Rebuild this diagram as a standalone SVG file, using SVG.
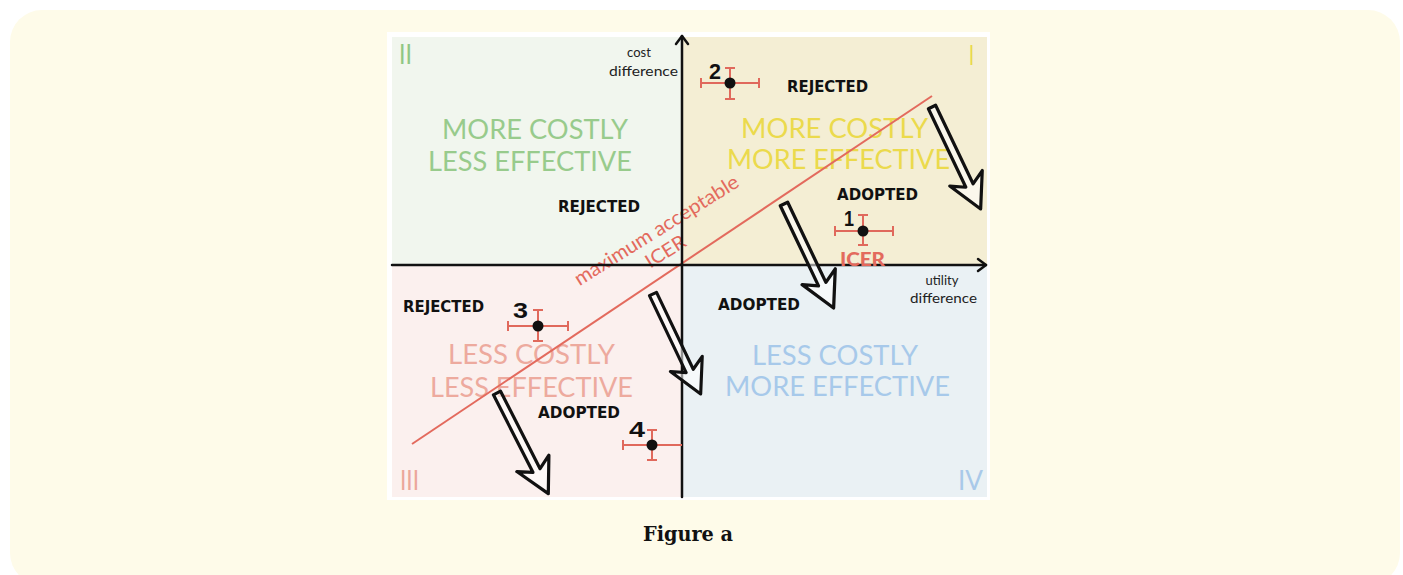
<svg xmlns="http://www.w3.org/2000/svg" xmlns:xlink="http://www.w3.org/1999/xlink" width="1403" height="575" viewBox="0 0 1403 575">
<style>
.quad{font-family:Lato,"Noto Sans",sans-serif;font-size:27px;font-weight:400;text-anchor:start}
.dec{font-family:"DejaVu Sans","Noto Sans",sans-serif;font-size:15px;font-weight:900;fill:#111}
.ax{font-family:Lato,"Noto Sans",sans-serif;font-size:13px;fill:#222}
.num{font-family:"Liberation Sans",sans-serif;font-size:22px;font-weight:bold;fill:#111}
.eb{stroke:#E0695C;stroke-width:2;fill:none}
.red{fill:#E36A5D;font-family:Lato,"Noto Sans",sans-serif}
.harrow{fill:#ffffff;fill-opacity:0.55;stroke:#111;stroke-width:3.2;stroke-linejoin:round}
</style>
<defs>
<path id="harrow" d="M0,-4 L87,-4 L79,-18 L113,0 L79,18 L87,4 L0,4 Z"/>
</defs>
<rect x="10" y="10" width="1390" height="575" rx="32" fill="#FEFBE9"/>
<g id="chart">
<rect x="387" y="32" width="603" height="468" fill="#ffffff"/>
<rect x="392" y="37" width="290" height="228" fill="#F1F6EE"/>
<rect x="682" y="37" width="305" height="228" fill="#F4EED4"/>
<rect x="392" y="265" width="290" height="232" fill="#FBF0EE"/>
<rect x="682" y="265" width="305" height="232" fill="#EAF1F4"/>
</g>
<g id="quadrant-II">
<text class="quad" x="399" y="64" fill="#90C683" font-size="24" textLength="13" lengthAdjust="spacingAndGlyphs">II</text>
<text class="quad" x="442" y="139" fill="#98CB8C" textLength="186" lengthAdjust="spacingAndGlyphs">MORE COSTLY</text>
<text class="quad" x="428" y="171" fill="#98CB8C" textLength="204" lengthAdjust="spacingAndGlyphs">LESS EFFECTIVE</text>
<text class="dec" x="558" y="212" textLength="82" lengthAdjust="spacingAndGlyphs">REJECTED</text>
</g>
<g id="quadrant-I">
<text class="quad" x="969" y="65" fill="#E9D94A" font-size="24" textLength="5" lengthAdjust="spacingAndGlyphs">I</text>
<text class="quad" x="741" y="138" fill="#EBDA4C" textLength="187" lengthAdjust="spacingAndGlyphs">MORE COSTLY</text>
<text class="quad" x="727" y="169" fill="#EBDA4C" textLength="223" lengthAdjust="spacingAndGlyphs">MORE EFFECTIVE</text>
<text class="dec" x="787" y="92" textLength="81" lengthAdjust="spacingAndGlyphs">REJECTED</text>
<text class="dec" x="837" y="200" textLength="81" lengthAdjust="spacingAndGlyphs">ADOPTED</text>
</g>
<g id="quadrant-III">
<text class="quad" x="400" y="490" fill="#EBA79B" font-size="24" textLength="19" lengthAdjust="spacingAndGlyphs">III</text>
<text class="quad" x="448" y="364" fill="#EDAA9E" textLength="167" lengthAdjust="spacingAndGlyphs">LESS COSTLY</text>
<text class="quad" x="430" y="397" fill="#EDAA9E" textLength="203" lengthAdjust="spacingAndGlyphs">LESS EFFECTIVE</text>
<text class="dec" x="403" y="312" textLength="81" lengthAdjust="spacingAndGlyphs">REJECTED</text>
<text class="dec" x="538" y="418" textLength="82" lengthAdjust="spacingAndGlyphs">ADOPTED</text>
</g>
<g id="quadrant-IV">
<text class="quad" x="958" y="490" fill="#A9C9E9" font-size="24" textLength="25" lengthAdjust="spacingAndGlyphs">IV</text>
<text class="quad" x="752" y="365" fill="#A7C9EA" textLength="166" lengthAdjust="spacingAndGlyphs">LESS COSTLY</text>
<text class="quad" x="725" y="396" fill="#A7C9EA" textLength="225" lengthAdjust="spacingAndGlyphs">MORE EFFECTIVE</text>
<text class="dec" x="718" y="310" textLength="82" lengthAdjust="spacingAndGlyphs">ADOPTED</text>
</g>
<g id="icer-line">
<line x1="412" y1="444" x2="932" y2="96" stroke="#E36A5D" stroke-width="2"/>
<text class="red" font-size="20" text-anchor="middle" transform="translate(660,236) rotate(-32)" textLength="190" lengthAdjust="spacingAndGlyphs">maximum acceptable</text>
<text class="red" font-size="19" text-anchor="middle" transform="translate(669,257) rotate(-32)" textLength="44" lengthAdjust="spacingAndGlyphs">ICER</text>
</g>
<g id="axes" fill="none" stroke="#111" stroke-width="2.5" stroke-linecap="round" stroke-linejoin="round">
<line x1="682" y1="36" x2="682" y2="497"/>
<line x1="392" y1="265" x2="986" y2="265"/>
<polyline points="676,44 682,36 688,44"/>
<polyline points="978,259 986,265 978,271"/>
</g>
<g id="axis-labels">
<text class="ax" x="639" y="57" text-anchor="middle">cost</text>
<text class="ax" x="609" y="76" textLength="69" lengthAdjust="spacingAndGlyphs">difference</text>
<text class="ax" x="942" y="285" text-anchor="middle">utility</text>
<text class="ax" x="910" y="303" textLength="67" lengthAdjust="spacingAndGlyphs">difference</text>
</g>
<g id="point-1">
<path class="eb" d="M835,231 H893 M835,226 V236 M893,226 V236 M863,215 V245 M858,215 H868 M858,245 H868"/>
<circle cx="863" cy="231" r="5.5" fill="#111"/>
<text class="num" x="844" y="226" textLength="10" lengthAdjust="spacingAndGlyphs">1</text>
<text class="red" x="840" y="266" font-size="19" font-weight="900" textLength="45" lengthAdjust="spacingAndGlyphs">ICER</text>
</g>
<g id="point-2">
<path class="eb" d="M701,83 H759 M701,78 V88 M759,78 V88 M730,68 V99 M725,68 H735 M725,99 H735"/>
<circle cx="730" cy="83" r="5.5" fill="#111"/>
<text class="num" x="709" y="79" font-size="24" textLength="12" lengthAdjust="spacingAndGlyphs">2</text>
</g>
<g id="point-3">
<path class="eb" d="M508,326 H568 M508,321 V331 M568,321 V331 M538,310 V341 M533,310 H543 M533,341 H543"/>
<circle cx="538" cy="326" r="5.5" fill="#111"/>
<text class="num" x="513" y="318" font-size="19" textLength="15" lengthAdjust="spacingAndGlyphs">3</text>
</g>
<g id="point-4">
<path class="eb" d="M623,445 H682 M623,440 V450 M652,430 V460 M647,430 H657 M647,460 H657"/>
<circle cx="652" cy="445" r="5.5" fill="#111"/>
<text class="num" x="629" y="437" font-size="21" textLength="16" lengthAdjust="spacingAndGlyphs">4</text>
</g>
<g id="connectors">
<use xlink:href="#harrow" class="harrow" transform="translate(932,107) rotate(64.5)"/>
<use xlink:href="#harrow" class="harrow" transform="translate(784,204) rotate(64.5) scale(1.02)"/>
<use xlink:href="#harrow" class="harrow" transform="translate(653,294) rotate(64.5) scale(0.98)"/>
<use xlink:href="#harrow" class="harrow" transform="translate(497,393) rotate(63)"/>
</g>
<g id="caption">
<text x="688" y="541" text-anchor="middle" font-family="'DejaVu Serif','Liberation Serif',serif" font-weight="bold" font-size="20" fill="#111" textLength="90" lengthAdjust="spacingAndGlyphs">Figure a</text>
</g>
</svg>
